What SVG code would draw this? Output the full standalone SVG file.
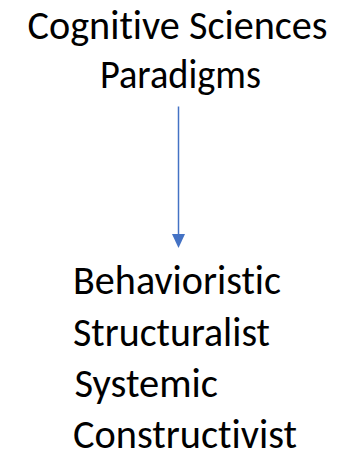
<svg xmlns="http://www.w3.org/2000/svg" width="352" height="459" viewBox="0 0 352 459">
  <style>
    .label { font-family: Calibri, Carlito, "Liberation Sans", Arial, sans-serif; font-size: 40px; fill: #000000; font-variant-ligatures: none; font-feature-settings: "liga" 0, "clig" 0; }
    .link { stroke: #4472C4; stroke-width: 1.5; fill: none; }
    .head { fill: #4472C4; }
  </style>
  <rect width="352" height="459" fill="#ffffff"/>

  <g id="node-title">
    <text class="label" x="27.5" y="39" textLength="300" lengthAdjust="spacingAndGlyphs">Cognitive Sciences</text>
    <text class="label" x="100" y="88" textLength="161" lengthAdjust="spacingAndGlyphs">Paradigms</text>
  </g>

  <g id="connectors">
    <line class="link" x1="178.5" y1="106.5" x2="178.5" y2="236"/>
    <path class="head" d="M172,234 L185,234 L178.5,248 Z"/>
  </g>

  <g id="node-paradigms">
    <text class="label" x="73" y="294" textLength="208" lengthAdjust="spacingAndGlyphs">Behavioristic</text>
    <text class="label" x="73" y="346" textLength="197" lengthAdjust="spacingAndGlyphs">Structuralist</text>
    <text class="label" x="74.5" y="397" textLength="143.5" lengthAdjust="spacingAndGlyphs">Systemic</text>
    <text class="label" x="73" y="448" textLength="224" lengthAdjust="spacingAndGlyphs">Constructivist</text>
  </g>
</svg>
